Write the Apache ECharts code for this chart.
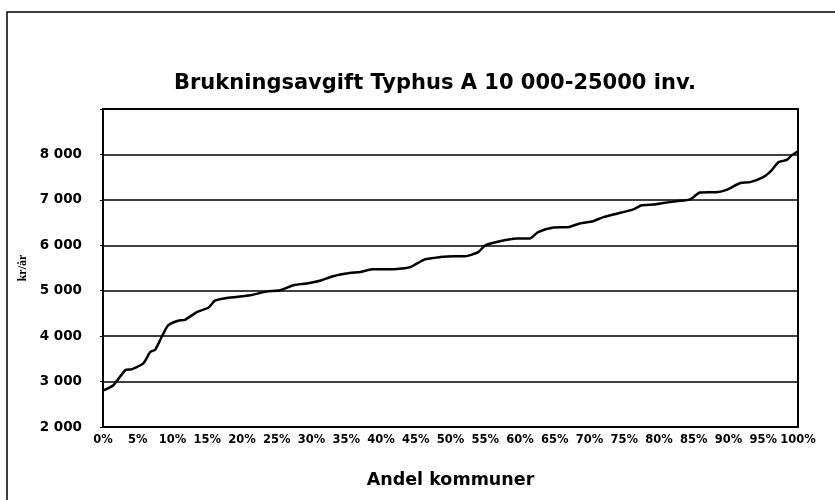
<!DOCTYPE html>
<html>
<head>
<meta charset="utf-8">
<script src="https://cdn.jsdelivr.net/npm/echarts@6/dist/echarts.min.js"></script>
<style>
  html, body { margin: 0; padding: 0; background: #fff; }
  #chart { width: 835px; height: 500px; }
</style>
</head>
<body>
<div id="chart"></div>
<script>
// andel kommuner (%) och avgift (kr/år)
var andel = [0, 1.5, 3.2, 4.1, 5.8, 6.8, 7.5, 8.4, 9.4, 10.8, 11.8, 13.5, 15.2, 16.1, 17.8,
    21.2, 23.5, 25.5, 27.4, 29.3, 31.2, 33.1, 35.5, 37, 38.7, 41.8, 44.2, 46.3, 48.5, 50.5,
    52.1, 54, 55, 57.1, 59.5, 61.4, 62.6, 64.8, 67, 68.6, 70.5, 72, 74.6, 76.3, 77.5, 79.2,
    80.6, 82.5, 84.5, 85.9, 88.3, 89.7, 91.7, 93.1, 95, 96.2, 97.2, 98.4, 99.1, 100];
var avgift = [2800, 2920, 3250, 3270, 3400, 3650, 3700, 3970, 4240, 4340, 4360, 4530, 4630, 4780, 4840,
    4900, 4980, 5010, 5120, 5160, 5220, 5320, 5390, 5410, 5470, 5470, 5520, 5690, 5740, 5760,
    5760, 5850, 6000, 6090, 6150, 6150, 6290, 6390, 6400, 6480, 6530, 6620, 6720, 6790, 6880, 6900,
    6930, 6970, 7010, 7160, 7170, 7220, 7370, 7390, 7500, 7650, 7830, 7880, 7980, 8070];

var yMin = 2000, yMax = 9000, yStep = 1000;
var xMin = 0, xMax = 100, xStep = 5;

var punkter = andel.map(function (a, i) { return [a, avgift[i]]; });

var myChart = echarts.init(document.getElementById('chart'));

var option = {
    backgroundColor: '#fff',
    animation: false,
    title: {
        text: 'Brukningsavgift Typhus A 10 000-25000 inv.',
        left: 169,
        top: 68,
        textStyle: {
            fontFamily: 'DejaVu Sans',
            fontWeight: 'bold',
            fontSize: 21,
            color: '#000'
        }
    },
    graphic: [{
        type: 'rect',
        shape: { x: 7, y: 12, width: 860, height: 520 },
        style: { fill: 'none', stroke: '#000', lineWidth: 1.5 },
        silent: true
    }, {
        type: 'rect',
        shape: { x: 103, y: 109, width: 695, height: 318 },
        style: { fill: 'none', stroke: '#000', lineWidth: 2 },
        silent: true,
        z: 10
    }],
    grid: {
        left: 103,
        right: 37,
        top: 109,
        bottom: 73
    },
    xAxis: {
        type: 'value',
        min: xMin,
        max: xMax,
        interval: xStep,
        name: 'Andel kommuner',
        nameLocation: 'middle',
        nameGap: 44,
        nameTextStyle: {
            fontFamily: 'DejaVu Sans',
            fontWeight: 'bold',
            fontSize: 17.5,
            color: '#000'
        },
        axisLine: { lineStyle: { color: '#000', width: 2 } },
        axisTick: { show: false },
        splitLine: { show: false },
        axisLabel: {
            formatter: '{value}%',
            margin: 7,
            color: '#000',
            fontFamily: 'DejaVu Sans',
            fontWeight: 'bold',
            fontSize: 11.5
        }
    },
    yAxis: {
        type: 'value',
        min: yMin,
        max: yMax,
        interval: yStep,
        name: 'kr/år',
        nameLocation: 'middle',
        nameGap: 73,
        nameRotate: 90,
        nameTextStyle: {
            fontFamily: 'Liberation Serif',
            fontWeight: 'bold',
            fontSize: 12,
            color: '#000'
        },
        axisLine: { show: true, lineStyle: { color: '#000', width: 2 } },
        axisTick: { show: true, length: 3, lineStyle: { color: '#000' } },
        splitLine: { show: true, lineStyle: { color: '#000', width: 1.5 } },
        axisLabel: {
            margin: 21,
            color: '#000',
            fontFamily: 'DejaVu Sans',
            fontWeight: 'bold',
            fontSize: 13.5,
            formatter: function (v) {
                if (v === yMax) return '';
                return String(v).replace(/\B(?=(\d{3})+(?!\d))/g, ' ');
            }
        }
    },
    series: [{
        type: 'line',
        data: punkter,
        symbol: 'none',
        smooth: 0.2,
        lineStyle: { color: '#000', width: 2.5 },
        z: 5
    }]
};

myChart.setOption(option);
</script>
</body>
</html>
